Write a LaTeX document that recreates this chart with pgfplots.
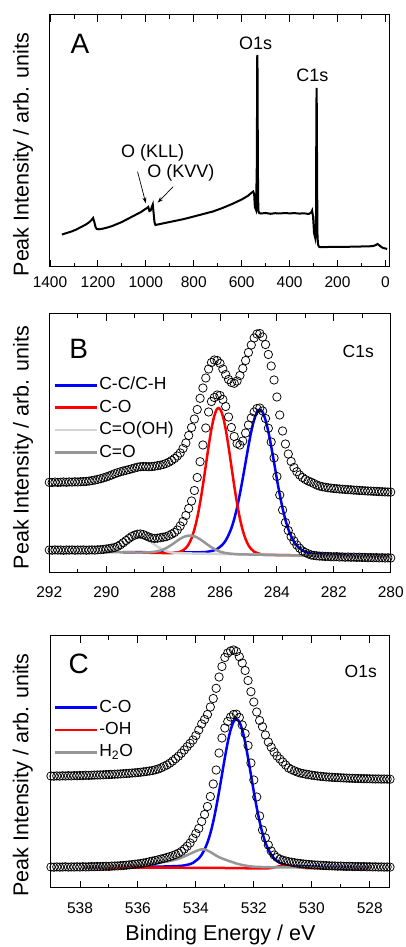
\documentclass[border=0pt]{standalone}
\usepackage{fontspec}
\setmainfont{Liberation Sans}
\usepackage{pgfplots}
\usepackage{pgfplotstable}
\pgfplotsset{compat=1.18}
\usetikzlibrary{arrows.meta}

\definecolor{fitblue}{RGB}{0,0,255}
\definecolor{fitred}{RGB}{255,0,0}
\definecolor{lightgr}{RGB}{212,212,212}
\definecolor{midgr}{RGB}{150,150,150}

% C1s, lower spectrum (fitted)
\pgfplotstableread{
E h
292.0 23.0
291.9 22.8
291.8 23.1
291.7 22.9
291.6 23.0
291.5 22.7
291.4 23.0
291.3 22.9
291.2 23.1
291.1 22.8
291.0 23.0
290.9 22.9
290.8 23.1
290.7 22.8
290.6 23.0
290.5 23.1
290.4 22.9
290.3 23.2
290.2 23.3
290.1 23.6
290.0 24.0
289.9 24.4
289.8 24.9
289.7 25.5
289.6 26.6
289.5 28.2
289.4 30.3
289.3 32.5
289.2 34.6
289.1 36.5
289.0 37.9
288.9 38.8
288.8 39.0
288.7 38.4
288.6 37.2
288.5 35.9
288.4 35.0
288.3 34.6
288.2 34.8
288.1 35.3
288.0 35.8
287.9 36.3
287.8 37.4
287.7 38.9
287.6 40.5
287.5 43.0
287.4 47.0
287.3 51.5
287.2 57.5
287.1 64.5
287.0 72.0
286.9 82.5
286.8 95.5
286.7 111.3
286.6 128.0
286.5 145.0
286.4 161.0
286.3 171.5
286.2 175.5
286.1 178.0
286.0 177.5
285.9 173.5
285.8 166.5
285.7 156.0
285.6 145.5
285.5 136.5
285.4 129.5
285.3 128.0
285.2 132.0
285.1 140.0
285.0 148.0
284.9 155.0
284.8 161.0
284.7 164.5
284.6 165.0
284.5 162.0
284.4 154.5
284.3 144.7
284.2 131.0
284.1 115.0
284.0 96.5
283.9 78.0
283.8 63.0
283.7 50.5
283.6 42.5
283.5 36.5
283.4 32.0
283.3 28.0
283.2 24.8
283.1 22.0
283.0 20.5
282.9 19.2
282.8 18.0
282.7 17.6
282.6 17.2
282.5 16.9
282.4 16.8
282.3 16.5
282.2 16.6
282.1 16.3
282.0 16.2
281.9 16.4
281.8 16.0
281.7 16.1
281.6 15.8
281.5 16.0
281.4 15.7
281.3 15.9
281.2 15.6
281.1 15.8
281.0 15.5
280.9 15.6
280.8 15.3
280.7 15.5
280.6 15.2
280.5 15.4
280.4 15.1
280.3 15.3
280.2 15.0
280.1 15.2
280.0 15.0
}\CsLow

% C1s, upper spectrum
\pgfplotstableread{
E h
292.0 90.7
291.9 90.5
291.8 90.9
291.7 90.6
291.6 90.8
291.5 91.0
291.4 90.7
291.3 91.1
291.2 90.9
291.1 91.2
291.0 91.0
290.9 91.3
290.8 91.4
290.7 91.6
290.6 91.9
290.5 92.4
290.4 92.9
290.3 93.6
290.2 94.3
290.1 95.1
290.0 96.0
289.9 97.0
289.8 98.1
289.7 99.3
289.6 100.3
289.5 101.2
289.4 102.0
289.3 102.7
289.2 103.4
289.1 104.2
289.0 105.0
288.9 105.8
288.8 106.3
288.7 106.5
288.6 106.4
288.5 106.3
288.4 106.4
288.3 106.8
288.2 107.3
288.1 107.8
288.0 108.5
287.9 109.5
287.8 110.8
287.7 112.5
287.6 114.5
287.5 117.0
287.4 120.0
287.3 124.5
287.2 130.0
287.1 137.5
287.0 145.5
286.9 154.0
286.8 163.5
286.7 174.7
286.6 185.0
286.5 195.0
286.4 204.0
286.3 210.5
286.2 213.0
286.1 212.5
286.0 209.7
285.9 204.0
285.8 198.5
285.7 193.5
285.6 190.5
285.5 189.7
285.4 192.0
285.3 197.5
285.2 204.5
285.1 212.5
285.0 220.5
284.9 228.0
284.8 235.0
284.7 239.0
284.6 239.5
284.5 236.0
284.4 228.5
284.3 218.5
284.2 207.0
284.1 193.0
284.0 176.0
283.9 158.0
283.8 142.0
283.7 129.0
283.6 119.0
283.5 111.5
283.4 105.5
283.3 101.3
283.2 98.0
283.1 95.5
283.0 93.5
282.9 92.0
282.8 90.8
282.7 89.5
282.6 88.0
282.5 87.0
282.4 86.2
282.3 85.8
282.2 85.2
282.1 84.9
282.0 84.5
281.9 84.3
281.8 84.0
281.7 83.8
281.6 83.6
281.5 83.3
281.4 83.2
281.3 82.9
281.2 82.8
281.1 82.5
281.0 82.4
280.9 82.2
280.8 82.0
280.7 81.9
280.6 81.7
280.5 81.6
280.4 81.4
280.3 81.3
280.2 81.1
280.1 81.0
280.0 80.9
}\CsHigh

% C1s fit components
\pgfplotstableread{
E h
289.4 21.0
289.0 20.9
288.5 20.7
288.0 20.5
287.5 20.5
287.0 20.6
286.6 20.8
286.4 21.4
286.2 22.7
286.1 24.0
286.0 26.1
285.9 28.7
285.8 32.5
285.7 38.0
285.6 44.8
285.5 54.0
285.4 65.5
285.3 79.2
285.2 94.5
285.1 110.7
285.0 126.9
284.9 141.6
284.8 153.2
284.7 160.8
284.6 163.3
284.5 160.7
284.4 153.0
284.3 141.3
284.2 126.5
284.1 110.7
284.0 93.9
283.9 78.5
283.8 64.7
283.7 53.1
283.6 43.8
283.5 36.9
283.4 31.3
283.3 27.4
283.2 24.7
283.1 22.5
283.0 21.1
282.8 19.6
282.6 18.8
282.1 18.1
281.6 17.5
280.6 16.7
280.0 16.3
}\CsCC

\pgfplotstableread{
E h
289.4 20.7
288.5 20.25
287.8 19.9
287.6 20.2
287.4 21.2
287.3 22.6
287.2 25.0
287.1 28.9
287.0 34.8
286.9 43.5
286.8 55.2
286.7 70.2
286.6 87.9
286.5 107.3
286.4 126.7
286.3 144.1
286.2 157.1
286.1 164.2
286.0 164.1
285.9 157.0
285.8 143.8
285.7 126.4
285.6 106.8
285.5 87.4
285.4 69.5
285.3 54.5
285.2 42.6
285.1 33.9
285.0 27.8
284.9 23.9
284.8 21.3
284.6 19.1
284.4 18.2
283.0 17.5
280.0 16.0
}\CsCO

\pgfplotstableread{
E h
290.2 21.2
290.0 21.4
289.8 22.2
289.6 23.9
289.4 27.0
289.2 31.0
289.0 34.5
288.8 35.9
288.6 34.3
288.4 30.6
288.2 26.4
288.0 23.1
287.8 21.2
287.6 20.2
287.4 19.8
287.0 19.5
285.0 18.5
283.0 17.5
280.0 16.0
}\CsCOOH

\pgfplotstableread{
E h
290.0 21.0
289.0 20.5
288.7 20.5
288.5 20.65
288.3 21.2
288.1 22.45
287.9 24.75
287.7 28.2
287.5 32.25
287.3 35.75
287.1 37.45
286.9 36.75
286.7 33.75
286.5 29.65
286.3 25.65
286.1 22.55
285.9 20.55
285.7 19.55
285.5 19.0
285.2 18.6
284.0 18.0
282.0 17.0
280.0 16.0
}\CsCdO

% O1s, lower spectrum (fitted)
\pgfplotstableread{
E h
539.0 21.0
538.9 20.8
538.8 21.1
538.7 20.9
538.6 21.0
538.5 21.2
538.4 20.9
538.3 21.1
538.2 21.0
538.1 21.2
538.0 21.0
537.9 21.3
537.8 21.1
537.7 21.2
537.6 21.4
537.5 21.3
537.4 21.5
537.3 21.4
537.2 21.6
537.1 21.7
537.0 21.6
536.9 21.9
536.8 22.0
536.7 22.1
536.6 22.3
536.5 22.5
536.4 22.8
536.3 23.1
536.2 23.4
536.1 23.8
536.0 24.1
535.9 24.5
535.8 25.0
535.7 25.6
535.6 26.3
535.5 26.9
535.4 27.5
535.3 28.2
535.2 29.0
535.1 29.7
535.0 30.6
534.9 31.4
534.8 32.4
534.7 33.5
534.6 34.8
534.5 36.6
534.4 39.0
534.3 41.8
534.2 45.0
534.1 49.7
534.0 54.5
533.9 59.5
533.8 66.5
533.7 73.5
533.6 81.5
533.5 91.5
533.4 104.0
533.3 118.0
533.2 135.0
533.1 150.0
533.0 160.0
532.9 166.5
532.8 171.0
532.7 173.5
532.6 173.8
532.5 170.5
532.4 163.0
532.3 154.5
532.2 142.5
532.1 125.0
532.0 108.0
531.9 91.0
531.8 72.0
531.7 58.0
531.6 50.0
531.5 43.0
531.4 37.0
531.3 33.0
531.2 30.5
531.1 28.8
531.0 27.8
530.9 27.0
530.8 26.3
530.7 25.8
530.6 25.3
530.5 24.8
530.4 24.5
530.3 24.1
530.2 23.8
530.1 23.5
530.0 23.3
529.9 23.0
529.8 22.9
529.7 22.7
529.6 22.5
529.5 22.4
529.4 22.2
529.3 22.1
529.2 22.0
529.1 21.8
529.0 21.9
528.9 21.7
528.8 21.6
528.7 21.7
528.6 21.5
528.5 21.4
528.4 21.5
528.3 21.3
528.2 21.4
528.1 21.2
528.0 21.3
527.9 21.1
527.8 21.2
527.7 21.0
527.6 21.1
527.5 20.9
527.4 21.0
527.3 20.9
}\OsLow

% O1s, upper spectrum
\pgfplotstableread{
E h
539.0 112.0
538.9 111.8
538.8 112.1
538.7 111.9
538.6 112.2
538.5 112.0
538.4 112.3
538.3 112.1
538.2 112.4
538.1 112.3
538.0 112.5
537.9 112.4
537.8 112.7
537.7 112.6
537.6 112.8
537.5 112.9
537.4 113.0
537.3 113.1
537.2 113.2
537.1 113.4
537.0 113.5
536.9 113.6
536.8 113.8
536.7 113.9
536.6 114.1
536.5 114.3
536.4 114.5
536.3 114.7
536.2 115.0
536.1 115.2
536.0 115.5
535.9 115.8
535.8 116.2
535.7 116.6
535.6 117.0
535.5 117.5
535.4 118.2
535.3 119.0
535.2 120.2
535.1 121.6
535.0 123.0
534.9 124.8
534.8 127.0
534.7 129.3
534.6 131.8
534.5 134.8
534.4 138.0
534.3 141.3
534.2 144.6
534.1 148.0
534.0 152.5
533.9 158.0
533.8 164.0
533.7 168.5
533.6 173.5
533.5 181.0
533.4 189.5
533.3 199.7
533.2 211.0
533.1 221.5
533.0 230.5
532.9 235.0
532.8 237.0
532.7 238.0
532.6 236.5
532.5 231.3
532.4 225.0
532.3 217.5
532.2 207.5
532.1 196.3
532.0 186.0
531.9 176.0
531.8 167.5
531.7 161.3
531.6 153.0
531.5 146.0
531.4 140.8
531.3 136.0
531.2 132.0
531.1 129.0
531.0 126.0
530.9 123.0
530.8 120.0
530.7 118.5
530.6 117.2
530.5 116.0
530.4 115.0
530.3 114.4
530.2 113.8
530.1 113.3
530.0 112.8
529.9 112.4
529.8 112.0
529.7 111.7
529.6 111.4
529.5 111.1
529.4 110.9
529.3 110.7
529.2 110.5
529.1 110.4
529.0 110.2
528.9 110.1
528.8 109.9
528.7 109.8
528.6 109.7
528.5 109.6
528.4 109.5
528.3 109.4
528.2 109.3
528.1 109.3
528.0 109.2
527.9 109.1
527.8 109.0
527.7 109.1
527.6 108.9
527.5 109.0
527.4 108.9
527.3 108.8
}\OsHigh

% O1s fit components
\pgfplotstableread{
E h
537.9 20.8
536.6 20.9
535.6 21.2
535.1 21.5
534.6 22.0
534.4 22.6
534.2 23.9
534.1 25.1
534.0 27.2
533.9 29.6
533.8 33.3
533.7 38.6
533.6 45.5
533.5 54.7
533.4 66.4
533.3 80.5
533.2 96.3
533.1 113.2
533.0 130.2
532.9 145.8
532.8 158.2
532.7 166.2
532.6 169.0
532.5 166.2
532.4 158.2
532.3 145.8
532.2 130.2
532.1 113.2
532.0 96.3
531.9 80.5
531.8 66.4
531.7 54.7
531.6 45.5
531.5 38.6
531.4 33.3
531.3 29.6
531.2 27.2
531.1 25.1
531.0 23.9
530.8 22.6
530.6 22.0
530.1 21.5
529.6 21.2
528.6 20.9
528.0 20.8
}\OsCO

\pgfplotstableread{
E h
537.9 20.6
537.0 20.5
536.0 20.4
535.0 20.3
534.0 20.2
533.0 20.0
532.4 19.8
532.0 19.6
531.6 19.6
531.4 20.0
531.2 21.2
531.0 22.2
530.8 22.4
530.6 21.6
530.4 20.6
530.2 20.0
530.0 19.8
529.0 19.7
528.0 19.7
}\OsOH

\pgfplotstableread{
E h
537.9 20.7
537.0 21.5
536.5 22.2
536.0 23.2
535.5 24.5
535.0 26.4
534.8 27.6
534.6 29.2
534.4 31.5
534.2 34.2
534.0 36.8
533.9 38.0
533.8 38.7
533.7 38.5
533.6 37.5
533.5 36.0
533.4 34.2
533.3 32.4
533.2 30.8
533.0 28.5
532.8 26.5
532.6 24.5
532.4 23.0
532.2 22.0
532.0 21.3
531.5 20.8
531.0 20.6
530.0 20.5
528.0 20.4
}\OsHtwoO

\pgfplotsset{
  xps/.style={
    scale only axis,
    x dir=reverse,
    ymin=0,
    ytick=\empty,
    axis line style={line width=1pt},
    tick style={line width=0.9pt, black},
    major tick length=7pt,
    minor tick length=4pt,
    minor x tick num=1,
    ticklabel style={font=\fontsize{15.5}{18}\selectfont},
    /pgf/number format/assume math mode=true,
    /pgf/number format/1000 sep={},
    ylabel={Peak Intensity / arb. units},
    ylabel style={font=\fontsize{21.5}{24}\selectfont, anchor=center},
    legend style={draw=none, fill=none, inner sep=0pt, row sep=2.4pt,
      font=\fontsize{17.5}{20}\selectfont,
      nodes={text height=13pt, text depth=4pt, inner sep=1.5pt},
      anchor=north west},
    legend cell align=left,
    legend image code/.code={\draw[#1, line width=2.6pt] (0pt,0pt) -- (42pt,0pt);},
  },
  raw/.style={only marks, mark=o, mark size=4.2pt, black,
    mark options={line width=0.75pt}, forget plot},
  fit/.style={line width=2.5pt, smooth},
}

\begin{document}
\begin{tikzpicture}
\useasboundingbox (0,0) rectangle (406pt,947pt);

% ---------- A: survey ----------
\begin{axis}[xps,
  at={(50pt,680pt)}, anchor=south west,
  width=340pt, height=252pt,
  xmin=-19, xmax=1400, ymax=252,
  xtick={0,200,...,1400},
  xticklabel style={yshift=-6.5pt},
  ylabel style={at={(axis description cs:-0.079,0.446)}},
]
\addplot[black, line width=2pt] coordinates {
(1350,32.5) (1330,34) (1310,35.5) (1290,37.5) (1270,40) (1250,42.5)
(1235,45) (1225,47.5) (1220,49) (1215,45) (1210,40) (1205,38)
(1195,37.7) (1180,38.3) (1160,39.5) (1140,41) (1120,43) (1100,45)
(1080,47.5) (1060,50) (1040,52.5) (1020,55) (1005,57.5) (995,59)
(990,60) (985,56) (980,56.5) (975,60) (971,62.5) (968,55) (964,45)
(960,42) (950,42.5) (930,43.5) (900,45) (870,46.5) (840,48) (800,50.5)
(760,53) (720,55.5) (680,59) (640,63) (600,67.5) (575,71) (560,74)
(552,75.5) (548,73) (545,60) (540,57) (537,100) (535.5,180) (535,212)
(534,200) (533,140) (531.5,70) (530,56) (527,54) (520,53.5) (500,54)
(480,53.2) (460,53.8) (440,53.5) (420,54) (400,53.6) (380,53.9)
(360,53.4) (340,53.7) (320,53) (310,54.5) (306,56.5) (302,50) (298,34)
(293,29) (290,40) (288.5,140) (287.5,179) (286.5,160) (285,80)
(283.5,30) (281,22) (276,20) (260,19.8) (220,20.2) (180,20) (140,20.3)
(100,20.5) (70,20.6) (50,21) (40,22) (33,23) (27,22) (20,20.5)
(10,19) (0,18.5) (-7,18)
};
\node[font=\fontsize{28}{30}\selectfont] at (axis cs:1275,223.3) {A};
\node[font=\fontsize{18}{20}\selectfont] at (axis cs:541.7,223.7) {O1s};
\node[font=\fontsize{18}{20}\selectfont] at (axis cs:305.4,192) {C1s};
\node[font=\fontsize{18}{20}\selectfont] at (axis cs:972,113.7) {O (KLL)};
\node[font=\fontsize{18}{20}\selectfont] at (axis cs:854,93.7) {O (KVV)};
\draw[line width=0.7pt, -{Stealth[length=6pt,width=4pt]}] (axis cs:1034.6,95.3) -- (axis cs:1000,63.7);
\draw[line width=0.7pt, -{Stealth[length=6pt,width=4pt]}] (axis cs:886,80.3) -- (axis cs:951,64.3);
\end{axis}

% ---------- B: C1s ----------
\begin{axis}[xps,
  at={(49.3pt,374pt)}, anchor=south west,
  width=341.4pt, height=259pt,
  xmin=280, xmax=292, ymax=259,
  xtick={280,282,...,292},
  xticklabel style={yshift=-10pt},
  ylabel style={at={(axis description cs:-0.077,0.485)}},
  legend style={at={(axis description cs:0.011,0.764)}},
]
\addplot[raw] table[x=E, y=h] {\CsHigh};
\addplot[raw] table[x=E, y=h] {\CsLow};
\addplot[fit, fitblue] table[x=E, y=h] {\CsCC};
\addlegendentry{C-C/C-H}
\addplot[fit, fitred] table[x=E, y=h] {\CsCO};
\addlegendentry{C-O}
\addplot[fit, lightgr] table[x=E, y=h] {\CsCOOH};
\addlegendentry{C=O(OH)}
\addplot[fit, midgr] table[x=E, y=h] {\CsCdO};
\addlegendentry{C=O}
\node[font=\fontsize{28}{30}\selectfont] at (axis cs:290.97,224) {B};
\node[font=\fontsize{17.5}{20}\selectfont] at (axis cs:281.14,221.3) {C1s};
\end{axis}

% ---------- C: O1s ----------
\begin{axis}[xps,
  at={(51pt,59pt)}, anchor=south west,
  width=339pt, height=252pt,
  xmin=527.3, xmax=539, ymax=252,
  xtick={528,530,...,538},
  xticklabel style={yshift=-11pt},
  ylabel style={at={(axis description cs:-0.083,0.448)}},
  xlabel={Binding Energy / eV},
  xlabel style={font=\fontsize{21.5}{24}\selectfont, at={(axis description cs:0.5,-0.208)}, anchor=base},
  legend style={at={(axis description cs:0.006,0.756)}},
]
\addplot[raw] table[x=E, y=h] {\OsHigh};
\addplot[raw] table[x=E, y=h] {\OsLow};
\addplot[fit, fitblue] table[x=E, y=h] {\OsCO};
\addlegendentry{C-O}
\addplot[fit, fitred] table[x=E, y=h] {\OsOH};
\addlegendentry{-OH}
\addplot[fit, midgr] table[x=E, y=h] {\OsHtwoO};
\addlegendentry{H\textsubscript{2}O}
\node[font=\fontsize{28}{30}\selectfont] at (axis cs:538.04,223.7) {C};
\node[font=\fontsize{17.5}{20}\selectfont] at (axis cs:528.31,216.3) {O1s};
\end{axis}
\end{tikzpicture}
\end{document}
